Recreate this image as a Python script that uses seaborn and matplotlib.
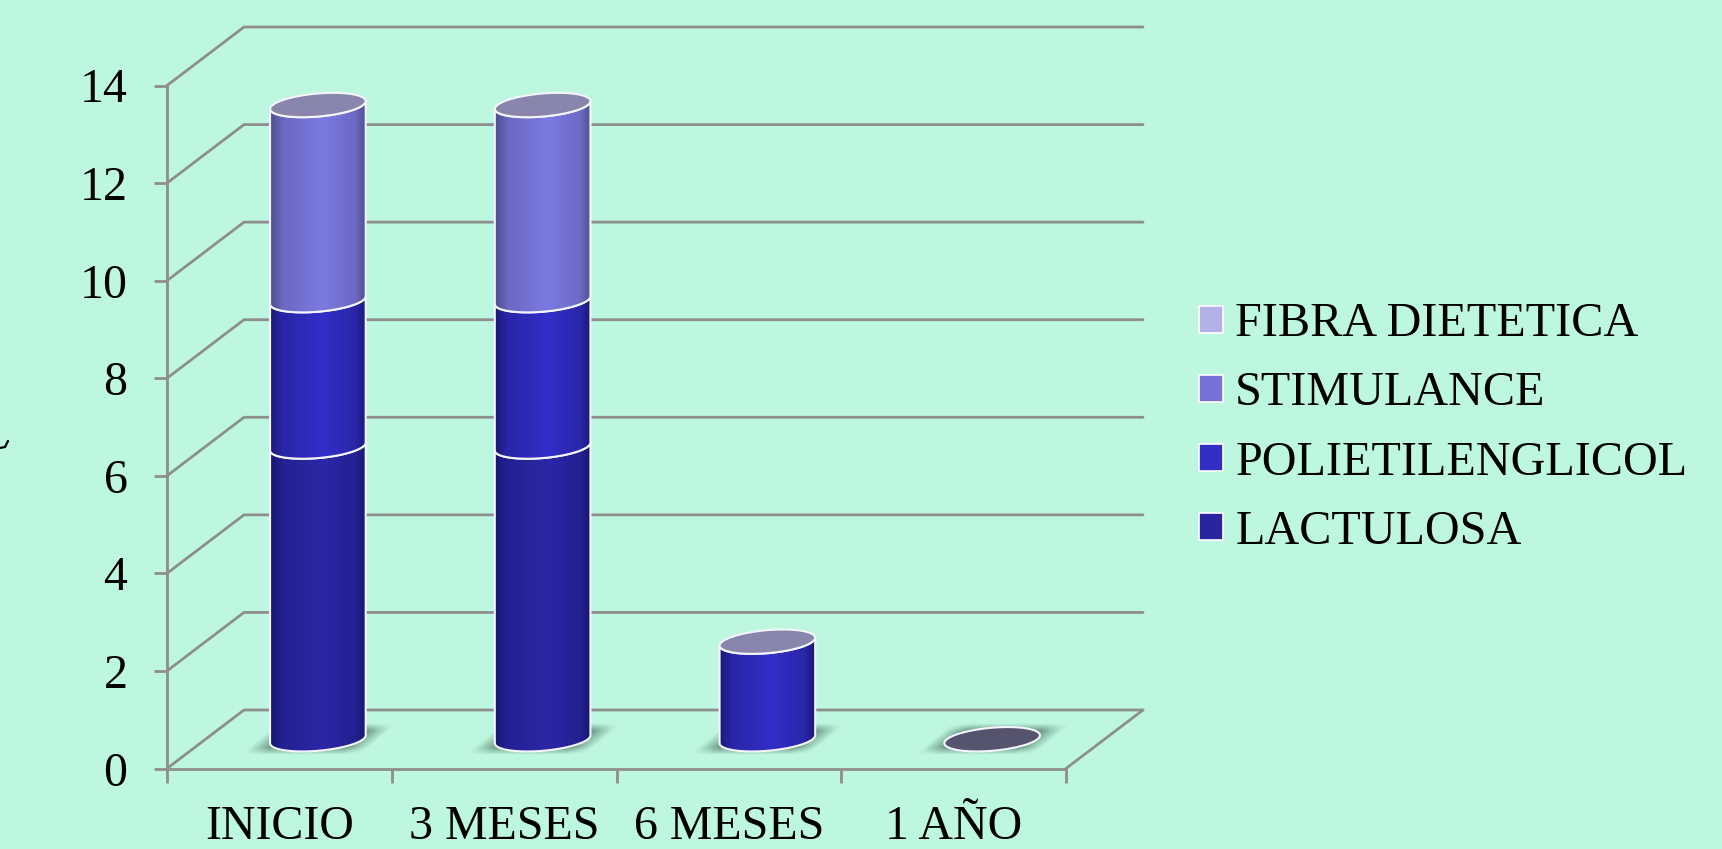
import numpy as np
import pandas as pd
import seaborn as sns
import matplotlib
matplotlib.use('Agg')
import matplotlib.pyplot as plt
from matplotlib.lines import Line2D
from matplotlib.patches import Patch, PathPatch, Ellipse
from matplotlib.path import Path
from matplotlib.transforms import Affine2D, IdentityTransform

# data
categories = ['INICIO', '3 MESES', '6 MESES', '1 AÑO']
lactulosa = [6, 6, 0, 0]
polietilenglicol = [3, 3, 2, 0]
stimulance = [4, 4, 0, 0]
fibra = [0, 0, 0, 0]
series_names = ['LACTULOSA', 'POLIETILENGLICOL', 'STIMULANCE', 'FIBRA DIETETICA']
yticks = [0, 2, 4, 6, 8, 10, 12, 14]

BG = '#BEF7DF'
GRID = '#8E8E8E'
LW = 2.0
legend_colors = ['#2A249F', '#332EC4', '#7672D8', '#B3B1E5']
edge_colors = ['#15156C', '#17176F', '#4A4A88', '#8080B0']
mid_colors = ['#2B27A6', '#332EC8', '#7C7AE2', '#B3B1E5']

# pixel layout of the 3d box
W, H = 1722, 849
DX, DY = 77, 58.5
A, B, TILT = 48, 11.5, np.radians(5)

sns.set_theme(style='white')
plt.rcParams['font.family'] = ['Liberation Serif', 'DejaVu Serif']

fig = plt.figure(figsize=(W / 100, H / 100), dpi=100, facecolor=BG)
ax = fig.add_axes([167 / W, 1 - 768.5 / H, 899 / W, 683 / H], facecolor='none')

bottoms = np.zeros(len(categories))
bar_groups = []
for name, values, color in zip(series_names, [lactulosa, polietilenglicol, stimulance, fibra], legend_colors):
    df = pd.DataFrame({'cat': categories, 'val': values})
    sns.barplot(data=df, x='cat', y='val', color=color, width=0.427, saturation=1,
                errorbar=None, bottom=bottoms, ax=ax, zorder=3)
    bar_groups.append(ax.patches[-len(categories):])
    bottoms = bottoms + np.array(values)

ax.set_xlim(-0.5, len(categories) - 0.5)
ax.set_ylim(0, 14)
ax.autoscale(False)
ax.set_xlabel('')
ax.set_ylabel('')
sns.despine(ax=ax)
for side in ['left', 'bottom']:
    ax.spines[side].set_color(GRID)
    ax.spines[side].set_linewidth(LW)

ax.set_yticks(yticks)
ax.tick_params(axis='y', length=9.5, width=LW, color=GRID, pad=19, labelsize=34.5, labelcolor='black', left=True)
ax.set_xticks(range(len(categories)))
ax.set_xticklabels(categories)
ax.set_xticks(np.arange(len(categories) + 1) - 0.5, minor=True)
ax.tick_params(axis='x', which='major', length=0, pad=26.5, labelsize=34.5, labelcolor='black')
ax.tick_params(axis='x', which='minor', length=10, width=LW, color=GRID, bottom=True)


def add_line(xs, ys):
    ax.add_line(Line2D(xs, ys, color=GRID, lw=LW, transform=IdentityTransform(), clip_on=False, zorder=1))


# back wall and floor
x0, _ = ax.transData.transform((-0.5, 0))
x1, _ = ax.transData.transform((len(categories) - 0.5, 0))
for t in yticks:
    _, y = ax.transData.transform((0, t))
    add_line([x0, x0 + DX, x1 + DX], [y, y + DY, y + DY])
_, y_floor = ax.transData.transform((0, 0))
add_line([x1, x1 + DX], [y_floor, y_floor + DY])


def arc(cx, cy, start, stop):
    t = np.radians(np.linspace(start, stop, 60))
    xs = cx + A * np.cos(t) * np.cos(TILT) - B * np.sin(t) * np.sin(TILT)
    ys = cy + A * np.cos(t) * np.sin(TILT) + B * np.sin(t) * np.cos(TILT)
    return np.column_stack([xs, ys])


def gradient(edge, mid):
    edge = np.array(matplotlib.colors.to_rgb(edge))
    mid = np.array(matplotlib.colors.to_rgb(mid))
    prof = np.interp(np.linspace(0, 1, 96), [0, 0.15, 0.55, 0.88, 1], [0, 0.65, 1, 0.65, 0])
    return (edge + (mid - edge) * prof[:, None])[None, :, :]


def shadow(cx, cy, zorder):
    xs = np.linspace(-76, 76, 160)
    ys = np.linspace(-18, 18, 40)
    gx, gy = np.meshgrid(xs, ys)
    u = gx - 1.2 * gy
    alpha = np.clip((1 - np.abs(u) / 60) * 2.6, 0, 1) * np.clip((1 - np.abs(gy) / 16) * 2, 0, 1) * 0.8
    img = np.zeros(gx.shape + (4,))
    img[..., :3] = matplotlib.colors.to_rgb('#4F7A68')
    img[..., 3] = alpha
    im = ax.imshow(img, extent=(cx - 76, cx + 76, cy - 18, cy + 18), origin='lower', aspect='auto',
                   transform=IdentityTransform(), interpolation='bilinear', zorder=zorder)
    im.set_clip_on(False)


# turn the flat seaborn bars into cylinders
depth = ax.transData + Affine2D().translate(DX / 2, DY / 2)
for i in range(len(categories)):
    z = 4
    top = None
    base = depth.transform((i, 0))
    shadow(base[0] + 1, base[1], 2)
    for s, bars in enumerate(bar_groups):
        bar = bars[i]
        if bar.get_height() == 0:
            bar.set_visible(False)
            continue
        (xl, yb) = depth.transform((bar.get_x(), bar.get_y()))
        (xr, yt) = depth.transform((bar.get_x() + bar.get_width(), bar.get_y() + bar.get_height()))
        cx = (xl + xr) / 2
        lower = arc(cx, yb, 180, 360)
        upper = arc(cx, yt, 360, 180)
        verts = np.vstack([lower, upper, lower[:1]])
        body = Path(verts)
        bar.set_transform(depth)
        bar.set_linewidth(0)
        bar.set_clip_box(fig.bbox)
        bar.set_clip_path(body, IdentityTransform())
        bar.set_zorder(z)
        im = ax.imshow(gradient(edge_colors[s], mid_colors[s]), extent=(xl - 2, xr + 2, yb - 20, yt + 20),
                       aspect='auto', transform=IdentityTransform(), interpolation='bilinear', zorder=z + 0.1)
        im.set_clip_box(fig.bbox)
        im.set_clip_path(body, IdentityTransform())
        ax.add_patch(PathPatch(body, fc='none', ec='#F4F4FB', lw=1.5, transform=IdentityTransform(),
                               clip_on=False, zorder=z + 0.2))
        top = (cx, yt)
        z += 1
    face = '#8886AC'
    if top is None:
        top = tuple(base)
        face = '#56536F'
    ax.add_patch(Ellipse(top, 2 * A, 2 * B, angle=np.degrees(TILT), fc=face, ec='#F4F4FB', lw=1.5,
                         transform=IdentityTransform(), clip_on=False, zorder=z + 1))

handles = [Patch(facecolor=c, edgecolor='white', linewidth=1.2, label=n)
           for c, n in zip(legend_colors[::-1], series_names[::-1])]
ax.legend(handles=handles, loc='center left', bbox_to_anchor=(1199 / W, 1 - 428 / H), bbox_transform=fig.transFigure,
          frameon=False, fontsize=34.7, labelcolor='black', handlelength=0.5, handleheight=0.5, handletextpad=0.25,
          labelspacing=0.52, borderpad=0, borderaxespad=0)

# cut off piece of a label at the left edge
fig.add_artist(Line2D(np.array([0, 5, 8]) / W, 1 - np.array([448, 447, 441]) / H, color='black', lw=1.6))

fig.savefig('out.png', dpi=100, facecolor=BG)
